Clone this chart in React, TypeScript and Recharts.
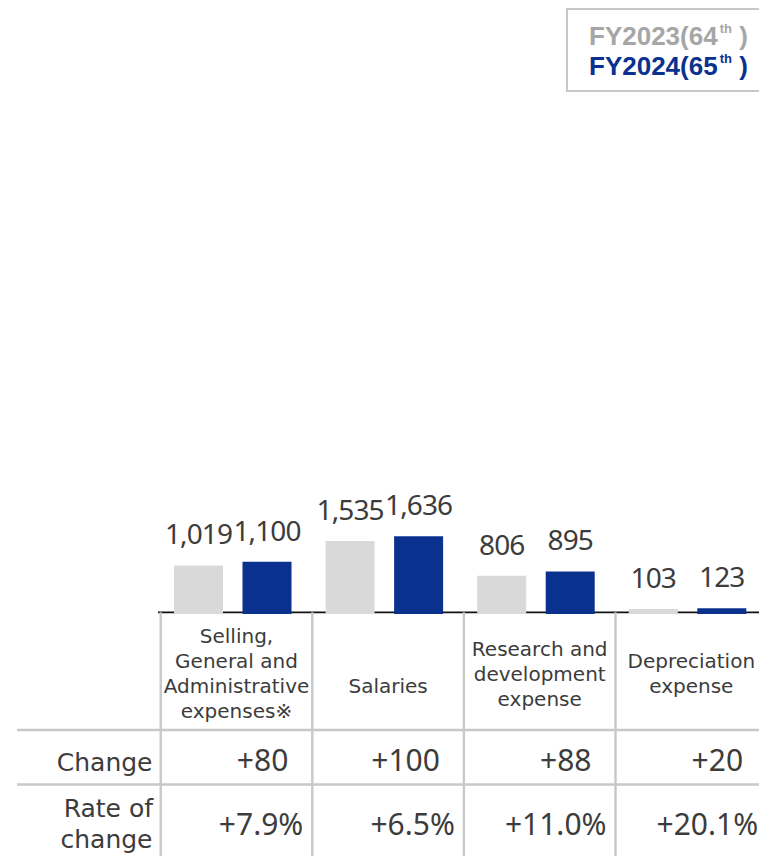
import React from "react";
import { BarChart, Bar, XAxis, YAxis, LabelList, Legend, Customized } from "recharts";

// Expense categories, with the line breaks used in the table header cells
const categoryLines: string[][] = [
  ["Selling,", "General and", "Administrative", "expenses※"],
  ["", "Salaries"],
  ["Research and", "development", "expense"],
  ["Depreciation", "expense"],
];
const categories = categoryLines.map((l) => l.filter(Boolean).join(" "));

// Amounts per fiscal year
const fy2023Values = [1019, 1535, 806, 103];
const fy2024Values = [1100, 1636, 895, 123];

// Table rows under the chart
const changeLabels = ["+80", "+100", "+88", "+20"];
const rateLabels = ["+7.9%", "+6.5%", "+11.0%", "+20.1%"];

// Series names
const fiscalYears = ["FY2023", "FY2024"];
const periods = ["64", "65"];

const data = categories.map((category, i) => ({
  category,
  fy2023: fy2023Values[i],
  fy2024: fy2024Values[i],
}));

const FONT = "'Noto Sans', sans-serif";
const LABEL_FONT = "'DejaVu Sans', Verdana, sans-serif";
const LEGEND_FONT = "'Liberation Sans', Arial, sans-serif";
const W = 775;
const H = 856;
const GRAY = "#d9d9d9";
const BLUE = "#0b318f";
const LEGEND_TEXT = ["#a6a6a6", BLUE];
const GRID = "#c8c8c8";
const TEXT = "#3c3c3c";

const BAND = 151.6;
const HALF = BAND / 2;
const COL_SHIFT = 3.7;
const AXIS_Y = 612.3;
const ROW1_Y = 730;
const ROW2_Y = 784.5;
const LABEL_MID = 680.5;
const LABEL_LH = 25;

const ColumnTick = (props: any) => {
  const { x, index } = props;
  const cx = x + COL_SHIFT;
  const left = cx - HALF;
  const right = cx + HALF;
  const lines = categoryLines[index] || [];
  const first = LABEL_MID - ((lines.length - 1) * LABEL_LH) / 2;
  return (
    <g>
      <line x1={left} x2={left} y1={AXIS_Y} y2={H} stroke={GRID} strokeWidth={2.4} />
      {index === categories.length - 1 && (
        <line x1={right} x2={right} y1={AXIS_Y} y2={H} stroke={GRID} strokeWidth={2.4} />
      )}
      <text textAnchor="middle" fontSize={20} fill={TEXT} fontFamily={LABEL_FONT}>
        {lines.map((l, i) => (
          <tspan key={i} x={cx} y={first + i * LABEL_LH}>
            {l}
          </tspan>
        ))}
      </text>
      <text x={right - 24} y={771} textAnchor="end" fontSize={30} fill={TEXT} fontFamily={FONT}>
        {changeLabels[index]}
      </text>
      <text x={right - 9} y={835} textAnchor="end" fontSize={30} fill={TEXT} fontFamily={FONT}>
        {rateLabels[index]}
      </text>
    </g>
  );
};

const TableFrame = () => (
  <g>
    <line x1={17} x2={W} y1={ROW1_Y} y2={ROW1_Y} stroke={GRID} strokeWidth={2.4} />
    <line x1={17} x2={W} y1={ROW2_Y} y2={ROW2_Y} stroke={GRID} strokeWidth={2.4} />
    <text x={152.5} y={770.5} textAnchor="end" fontSize={25} fill={TEXT} fontFamily={LABEL_FONT}>
      Change
    </text>
    <text x={153} y={816.7} textAnchor="end" fontSize={25} fill={TEXT} fontFamily={LABEL_FONT}>
      Rate of
    </text>
    <text x={152.5} y={848.3} textAnchor="end" fontSize={25} fill={TEXT} fontFamily={LABEL_FONT}>
      change
    </text>
  </g>
);

const BaseLine = () => (
  <line x1={158} x2={W} y1={AXIS_Y} y2={AXIS_Y} stroke="#111" strokeWidth={1.7} />
);

const LegendBox = () => (
  <div
    style={{
      boxSizing: "border-box",
      width: 220,
      height: 84,
      border: `2px solid ${GRID}`,
      padding: "11px 0 0 21px",
      background: "#fff",
      fontFamily: LEGEND_FONT,
      fontWeight: 700,
      fontSize: 26,
      lineHeight: "30px",
      textAlign: "left",
      whiteSpace: "nowrap",
    }}
  >
    {fiscalYears.map((fy, i) => (
      <div key={fy} style={{ color: LEGEND_TEXT[i], height: 30 }}>
        {fy}({periods[i]}
        <span style={{ fontSize: 13, position: "relative", top: -12, lineHeight: 0, marginLeft: 2 }}>th</span>
        {"  )"}
      </div>
    ))}
  </div>
);

const fmt = (v: any) => Number(v).toLocaleString("en-US");

export default function App() {
  return (
    <div
      style={{
        position: "fixed",
        left: 0,
        top: 0,
        width: 759,
        height: 856,
        overflow: "hidden",
        background: "#fff",
        fontFamily: FONT,
      }}
    >
      <BarChart
        width={W}
        height={H}
        data={data}
        margin={{ top: 138, right: W - 157 - BAND * 4, left: 157, bottom: 0 }}
        barGap={19.5}
      >
        <YAxis hide domain={[0, 10000]} />
        <XAxis
          dataKey="category"
          height={242}
          axisLine={false}
          tickLine={false}
          tickSize={0}
          tickMargin={0}
          interval={0}
          tick={<ColumnTick />}
        />
        <Legend
          verticalAlign="middle"
          align="center"
          layout="horizontal"
          wrapperStyle={{ top: 8, left: 566, width: 220, height: 84 }}
          content={<LegendBox />}
        />
        <Customized component={<TableFrame />} />
        <Bar
          dataKey="fy2023"
          name={`${fiscalYears[0]}(${periods[0]}th )`}
          fill={GRAY}
          barSize={49}
          isAnimationActive={false}
        >
          <LabelList
            dataKey="fy2023"
            position="top"
            offset={21}
            formatter={fmt}
            fill={TEXT}
            fontSize={28}
            fontFamily={FONT}
            letterSpacing={-0.9}
          />
        </Bar>
        <Bar
          dataKey="fy2024"
          name={`${fiscalYears[1]}(${periods[1]}th )`}
          fill={BLUE}
          barSize={49}
          isAnimationActive={false}
        >
          <LabelList
            dataKey="fy2024"
            position="top"
            offset={21}
            formatter={fmt}
            fill={TEXT}
            fontSize={28}
            fontFamily={FONT}
            letterSpacing={-0.9}
          />
        </Bar>
        <Customized component={<BaseLine />} />
      </BarChart>
    </div>
  );
}
